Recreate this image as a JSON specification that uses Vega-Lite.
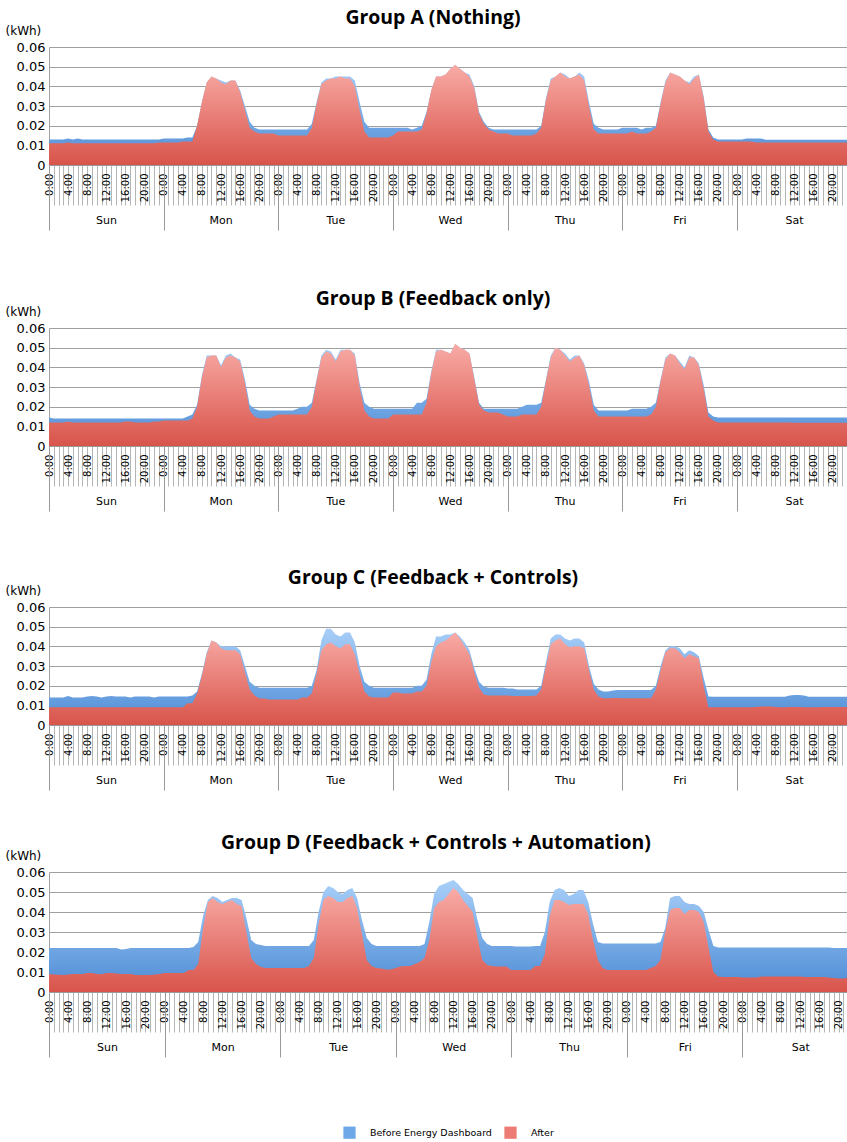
{
"$schema":"https://vega.github.io/schema/vega-lite/v6.json",
"padding":{"left":5,"top":7,"right":0,"bottom":0},
"background":"white",
"config":{"view":{"stroke":null},"title":{"font":"Open Sans","fontSize":19.4,"fontWeight":"bold","color":"#000","anchor":"middle","dx":-15,"offset":-4}},
"datasets":{
"A":[
{"h":0,"b":0.013,"a":0.011},{"h":1,"b":0.013,"a":0.011},{"h":2,"b":0.013,"a":0.011},{"h":3,"b":0.013,"a":0.011},{"h":4,"b":0.0135,"a":0.0115},{"h":5,"b":0.013,"a":0.011},{"h":6,"b":0.0135,"a":0.011},{"h":7,"b":0.013,"a":0.011},{"h":8,"b":0.013,"a":0.011},{"h":9,"b":0.013,"a":0.011},{"h":10,"b":0.013,"a":0.011},{"h":11,"b":0.013,"a":0.011},{"h":12,"b":0.013,"a":0.011},{"h":13,"b":0.013,"a":0.011},{"h":14,"b":0.013,"a":0.011},{"h":15,"b":0.013,"a":0.011},{"h":16,"b":0.013,"a":0.011},{"h":17,"b":0.013,"a":0.011},{"h":18,"b":0.013,"a":0.011},{"h":19,"b":0.013,"a":0.011},{"h":20,"b":0.013,"a":0.011},{"h":21,"b":0.013,"a":0.011},{"h":22,"b":0.013,"a":0.011},{"h":23,"b":0.013,"a":0.0115},
{"h":24,"b":0.0135,"a":0.0115},{"h":25,"b":0.0135,"a":0.0115},{"h":26,"b":0.0135,"a":0.0115},{"h":27,"b":0.0135,"a":0.0115},{"h":28,"b":0.0135,"a":0.012},{"h":29,"b":0.014,"a":0.012},{"h":30,"b":0.014,"a":0.012},{"h":31,"b":0.02,"a":0.02},{"h":32,"b":0.032,"a":0.032},{"h":33,"b":0.042,"a":0.042},{"h":34,"b":0.045,"a":0.045},{"h":35,"b":0.044,"a":0.044},{"h":36,"b":0.043,"a":0.042},{"h":37,"b":0.042,"a":0.041},{"h":38,"b":0.043,"a":0.043},{"h":39,"b":0.043,"a":0.043},{"h":40,"b":0.038,"a":0.037},{"h":41,"b":0.03,"a":0.028},{"h":42,"b":0.022,"a":0.019},{"h":43,"b":0.019,"a":0.017},{"h":44,"b":0.018,"a":0.016},{"h":45,"b":0.018,"a":0.016},{"h":46,"b":0.018,"a":0.016},{"h":47,"b":0.018,"a":0.016},
{"h":48,"b":0.018,"a":0.015},{"h":49,"b":0.018,"a":0.015},{"h":50,"b":0.018,"a":0.015},{"h":51,"b":0.018,"a":0.015},{"h":52,"b":0.018,"a":0.015},{"h":53,"b":0.018,"a":0.015},{"h":54,"b":0.018,"a":0.015},{"h":55,"b":0.021,"a":0.019},{"h":56,"b":0.032,"a":0.031},{"h":57,"b":0.042,"a":0.041},{"h":58,"b":0.044,"a":0.043},{"h":59,"b":0.044,"a":0.044},{"h":60,"b":0.045,"a":0.044},{"h":61,"b":0.045,"a":0.045},{"h":62,"b":0.045,"a":0.044},{"h":63,"b":0.045,"a":0.044},{"h":64,"b":0.043,"a":0.04},{"h":65,"b":0.032,"a":0.028},{"h":66,"b":0.022,"a":0.017},{"h":67,"b":0.019,"a":0.014},{"h":68,"b":0.019,"a":0.014},{"h":69,"b":0.019,"a":0.014},{"h":70,"b":0.019,"a":0.014},{"h":71,"b":0.019,"a":0.014},
{"h":72,"b":0.019,"a":0.015},{"h":73,"b":0.019,"a":0.017},{"h":74,"b":0.019,"a":0.017},{"h":75,"b":0.019,"a":0.017},{"h":76,"b":0.018,"a":0.017},{"h":77,"b":0.019,"a":0.017},{"h":78,"b":0.02,"a":0.018},{"h":79,"b":0.027,"a":0.026},{"h":80,"b":0.038,"a":0.038},{"h":81,"b":0.045,"a":0.045},{"h":82,"b":0.045,"a":0.045},{"h":83,"b":0.046,"a":0.046},{"h":84,"b":0.049,"a":0.049},{"h":85,"b":0.051,"a":0.051},{"h":86,"b":0.049,"a":0.049},{"h":87,"b":0.047,"a":0.047},{"h":88,"b":0.046,"a":0.045},{"h":89,"b":0.04,"a":0.039},{"h":90,"b":0.027,"a":0.026},{"h":91,"b":0.022,"a":0.021},{"h":92,"b":0.019,"a":0.018},{"h":93,"b":0.018,"a":0.017},{"h":94,"b":0.018,"a":0.016},{"h":95,"b":0.018,"a":0.016},
{"h":96,"b":0.018,"a":0.016},{"h":97,"b":0.018,"a":0.015},{"h":98,"b":0.018,"a":0.015},{"h":99,"b":0.018,"a":0.015},{"h":100,"b":0.018,"a":0.015},{"h":101,"b":0.018,"a":0.015},{"h":102,"b":0.018,"a":0.016},{"h":103,"b":0.02,"a":0.019},{"h":104,"b":0.034,"a":0.033},{"h":105,"b":0.044,"a":0.043},{"h":106,"b":0.045,"a":0.045},{"h":107,"b":0.047,"a":0.047},{"h":108,"b":0.046,"a":0.045},{"h":109,"b":0.044,"a":0.044},{"h":110,"b":0.045,"a":0.045},{"h":111,"b":0.047,"a":0.046},{"h":112,"b":0.045,"a":0.043},{"h":113,"b":0.032,"a":0.03},{"h":114,"b":0.021,"a":0.018},{"h":115,"b":0.019,"a":0.016},{"h":116,"b":0.018,"a":0.016},{"h":117,"b":0.018,"a":0.016},{"h":118,"b":0.018,"a":0.016},{"h":119,"b":0.018,"a":0.016},
{"h":120,"b":0.019,"a":0.016},{"h":121,"b":0.019,"a":0.016},{"h":122,"b":0.019,"a":0.017},{"h":123,"b":0.019,"a":0.016},{"h":124,"b":0.018,"a":0.016},{"h":125,"b":0.019,"a":0.016},{"h":126,"b":0.019,"a":0.017},{"h":127,"b":0.02,"a":0.019},{"h":128,"b":0.032,"a":0.031},{"h":129,"b":0.043,"a":0.042},{"h":130,"b":0.047,"a":0.047},{"h":131,"b":0.046,"a":0.046},{"h":132,"b":0.045,"a":0.045},{"h":133,"b":0.043,"a":0.043},{"h":134,"b":0.042,"a":0.041},{"h":135,"b":0.045,"a":0.044},{"h":136,"b":0.046,"a":0.046},{"h":137,"b":0.035,"a":0.034},{"h":138,"b":0.018,"a":0.017},{"h":139,"b":0.014,"a":0.013},{"h":140,"b":0.013,"a":0.012},{"h":141,"b":0.013,"a":0.012},{"h":142,"b":0.013,"a":0.012},{"h":143,"b":0.013,"a":0.012},
{"h":144,"b":0.013,"a":0.012},{"h":145,"b":0.013,"a":0.012},{"h":146,"b":0.0135,"a":0.012},{"h":147,"b":0.0135,"a":0.012},{"h":148,"b":0.0135,"a":0.0115},{"h":149,"b":0.0135,"a":0.0115},{"h":150,"b":0.0128,"a":0.0115},{"h":151,"b":0.0128,"a":0.0115},{"h":152,"b":0.0128,"a":0.0115},{"h":153,"b":0.0128,"a":0.0115},{"h":154,"b":0.0128,"a":0.0115},{"h":155,"b":0.0128,"a":0.0115},{"h":156,"b":0.0128,"a":0.0115},{"h":157,"b":0.0128,"a":0.0115},{"h":158,"b":0.0128,"a":0.0115},{"h":159,"b":0.0128,"a":0.0115},{"h":160,"b":0.0128,"a":0.0115},{"h":161,"b":0.0128,"a":0.0115},{"h":162,"b":0.0128,"a":0.0115},{"h":163,"b":0.0128,"a":0.0115},{"h":164,"b":0.0128,"a":0.0115},{"h":165,"b":0.0128,"a":0.0115},{"h":166,"b":0.0128,"a":0.0115},{"h":167,"b":0.0128,"a":0.0115}
],
"B":[
{"h":0,"b":0.0145,"a":0.012},{"h":1,"b":0.014,"a":0.012},{"h":2,"b":0.014,"a":0.012},{"h":3,"b":0.014,"a":0.012},{"h":4,"b":0.014,"a":0.0125},{"h":5,"b":0.014,"a":0.012},{"h":6,"b":0.014,"a":0.012},{"h":7,"b":0.014,"a":0.012},{"h":8,"b":0.014,"a":0.012},{"h":9,"b":0.014,"a":0.012},{"h":10,"b":0.014,"a":0.012},{"h":11,"b":0.014,"a":0.012},{"h":12,"b":0.014,"a":0.012},{"h":13,"b":0.014,"a":0.012},{"h":14,"b":0.014,"a":0.012},{"h":15,"b":0.014,"a":0.012},{"h":16,"b":0.014,"a":0.0125},{"h":17,"b":0.014,"a":0.0125},{"h":18,"b":0.014,"a":0.012},{"h":19,"b":0.014,"a":0.012},{"h":20,"b":0.014,"a":0.012},{"h":21,"b":0.014,"a":0.012},{"h":22,"b":0.014,"a":0.0125},{"h":23,"b":0.014,"a":0.0125},
{"h":24,"b":0.014,"a":0.013},{"h":25,"b":0.014,"a":0.013},{"h":26,"b":0.014,"a":0.013},{"h":27,"b":0.014,"a":0.013},{"h":28,"b":0.014,"a":0.013},{"h":29,"b":0.015,"a":0.013},{"h":30,"b":0.016,"a":0.014},{"h":31,"b":0.021,"a":0.02},{"h":32,"b":0.036,"a":0.035},{"h":33,"b":0.046,"a":0.045},{"h":34,"b":0.046,"a":0.046},{"h":35,"b":0.046,"a":0.046},{"h":36,"b":0.041,"a":0.04},{"h":37,"b":0.046,"a":0.045},{"h":38,"b":0.047,"a":0.046},{"h":39,"b":0.045,"a":0.045},{"h":40,"b":0.044,"a":0.043},{"h":41,"b":0.034,"a":0.032},{"h":42,"b":0.021,"a":0.018},{"h":43,"b":0.019,"a":0.015},{"h":44,"b":0.018,"a":0.014},{"h":45,"b":0.018,"a":0.014},{"h":46,"b":0.018,"a":0.014},{"h":47,"b":0.018,"a":0.015},
{"h":48,"b":0.018,"a":0.016},{"h":49,"b":0.018,"a":0.016},{"h":50,"b":0.018,"a":0.016},{"h":51,"b":0.018,"a":0.016},{"h":52,"b":0.019,"a":0.016},{"h":53,"b":0.02,"a":0.016},{"h":54,"b":0.02,"a":0.016},{"h":55,"b":0.022,"a":0.02},{"h":56,"b":0.034,"a":0.033},{"h":57,"b":0.046,"a":0.045},{"h":58,"b":0.049,"a":0.048},{"h":59,"b":0.048,"a":0.047},{"h":60,"b":0.044,"a":0.043},{"h":61,"b":0.049,"a":0.048},{"h":62,"b":0.049,"a":0.049},{"h":63,"b":0.049,"a":0.049},{"h":64,"b":0.047,"a":0.046},{"h":65,"b":0.032,"a":0.03},{"h":66,"b":0.022,"a":0.018},{"h":67,"b":0.02,"a":0.015},{"h":68,"b":0.019,"a":0.014},{"h":69,"b":0.019,"a":0.014},{"h":70,"b":0.019,"a":0.014},{"h":71,"b":0.019,"a":0.014},
{"h":72,"b":0.019,"a":0.016},{"h":73,"b":0.019,"a":0.016},{"h":74,"b":0.019,"a":0.016},{"h":75,"b":0.019,"a":0.016},{"h":76,"b":0.019,"a":0.016},{"h":77,"b":0.022,"a":0.016},{"h":78,"b":0.022,"a":0.016},{"h":79,"b":0.024,"a":0.022},{"h":80,"b":0.038,"a":0.037},{"h":81,"b":0.049,"a":0.048},{"h":82,"b":0.049,"a":0.049},{"h":83,"b":0.048,"a":0.048},{"h":84,"b":0.047,"a":0.047},{"h":85,"b":0.052,"a":0.052},{"h":86,"b":0.05,"a":0.05},{"h":87,"b":0.049,"a":0.049},{"h":88,"b":0.047,"a":0.047},{"h":89,"b":0.035,"a":0.034},{"h":90,"b":0.022,"a":0.021},{"h":91,"b":0.019,"a":0.018},{"h":92,"b":0.019,"a":0.017},{"h":93,"b":0.019,"a":0.017},{"h":94,"b":0.019,"a":0.017},{"h":95,"b":0.019,"a":0.016},
{"h":96,"b":0.019,"a":0.015},{"h":97,"b":0.019,"a":0.015},{"h":98,"b":0.019,"a":0.015},{"h":99,"b":0.02,"a":0.016},{"h":100,"b":0.021,"a":0.016},{"h":101,"b":0.021,"a":0.016},{"h":102,"b":0.021,"a":0.016},{"h":103,"b":0.022,"a":0.02},{"h":104,"b":0.034,"a":0.033},{"h":105,"b":0.046,"a":0.045},{"h":106,"b":0.05,"a":0.05},{"h":107,"b":0.049,"a":0.049},{"h":108,"b":0.047,"a":0.046},{"h":109,"b":0.044,"a":0.043},{"h":110,"b":0.046,"a":0.045},{"h":111,"b":0.046,"a":0.046},{"h":112,"b":0.042,"a":0.041},{"h":113,"b":0.033,"a":0.031},{"h":114,"b":0.021,"a":0.018},{"h":115,"b":0.018,"a":0.015},{"h":116,"b":0.018,"a":0.015},{"h":117,"b":0.018,"a":0.015},{"h":118,"b":0.018,"a":0.015},{"h":119,"b":0.018,"a":0.015},
{"h":120,"b":0.018,"a":0.015},{"h":121,"b":0.018,"a":0.015},{"h":122,"b":0.019,"a":0.015},{"h":123,"b":0.019,"a":0.015},{"h":124,"b":0.019,"a":0.015},{"h":125,"b":0.019,"a":0.015},{"h":126,"b":0.02,"a":0.016},{"h":127,"b":0.022,"a":0.02},{"h":128,"b":0.034,"a":0.033},{"h":129,"b":0.045,"a":0.044},{"h":130,"b":0.047,"a":0.047},{"h":131,"b":0.046,"a":0.046},{"h":132,"b":0.043,"a":0.042},{"h":133,"b":0.04,"a":0.039},{"h":134,"b":0.046,"a":0.045},{"h":135,"b":0.045,"a":0.045},{"h":136,"b":0.042,"a":0.041},{"h":137,"b":0.031,"a":0.029},{"h":138,"b":0.017,"a":0.015},{"h":139,"b":0.015,"a":0.013},{"h":140,"b":0.0145,"a":0.012},{"h":141,"b":0.0145,"a":0.012},{"h":142,"b":0.0145,"a":0.012},{"h":143,"b":0.0145,"a":0.012},
{"h":144,"b":0.0145,"a":0.012},{"h":145,"b":0.0145,"a":0.012},{"h":146,"b":0.0145,"a":0.012},{"h":147,"b":0.0145,"a":0.012},{"h":148,"b":0.0145,"a":0.012},{"h":149,"b":0.0145,"a":0.012},{"h":150,"b":0.0145,"a":0.012},{"h":151,"b":0.0145,"a":0.012},{"h":152,"b":0.0145,"a":0.012},{"h":153,"b":0.0145,"a":0.012},{"h":154,"b":0.0145,"a":0.012},{"h":155,"b":0.0145,"a":0.012},{"h":156,"b":0.0145,"a":0.0118},{"h":157,"b":0.0145,"a":0.0118},{"h":158,"b":0.0145,"a":0.0118},{"h":159,"b":0.0145,"a":0.0118},{"h":160,"b":0.0145,"a":0.0118},{"h":161,"b":0.0145,"a":0.0118},{"h":162,"b":0.0145,"a":0.0118},{"h":163,"b":0.0145,"a":0.0118},{"h":164,"b":0.0145,"a":0.0118},{"h":165,"b":0.0145,"a":0.0118},{"h":166,"b":0.0145,"a":0.0118},{"h":167,"b":0.0145,"a":0.0118}
],
"C":[
{"h":0,"b":0.014,"a":0.009},{"h":1,"b":0.014,"a":0.009},{"h":2,"b":0.014,"a":0.009},{"h":3,"b":0.014,"a":0.009},{"h":4,"b":0.0148,"a":0.009},{"h":5,"b":0.014,"a":0.009},{"h":6,"b":0.014,"a":0.009},{"h":7,"b":0.014,"a":0.009},{"h":8,"b":0.0145,"a":0.009},{"h":9,"b":0.0148,"a":0.009},{"h":10,"b":0.0145,"a":0.009},{"h":11,"b":0.014,"a":0.009},{"h":12,"b":0.0145,"a":0.009},{"h":13,"b":0.0148,"a":0.009},{"h":14,"b":0.0145,"a":0.009},{"h":15,"b":0.0145,"a":0.009},{"h":16,"b":0.0145,"a":0.009},{"h":17,"b":0.014,"a":0.009},{"h":18,"b":0.0145,"a":0.009},{"h":19,"b":0.0145,"a":0.009},{"h":20,"b":0.0145,"a":0.009},{"h":21,"b":0.0145,"a":0.009},{"h":22,"b":0.014,"a":0.009},{"h":23,"b":0.0145,"a":0.009},
{"h":24,"b":0.0145,"a":0.009},{"h":25,"b":0.0145,"a":0.009},{"h":26,"b":0.0145,"a":0.009},{"h":27,"b":0.0145,"a":0.009},{"h":28,"b":0.0145,"a":0.009},{"h":29,"b":0.0145,"a":0.011},{"h":30,"b":0.015,"a":0.011},{"h":31,"b":0.017,"a":0.016},{"h":32,"b":0.026,"a":0.025},{"h":33,"b":0.037,"a":0.036},{"h":34,"b":0.043,"a":0.043},{"h":35,"b":0.042,"a":0.042},{"h":36,"b":0.04,"a":0.039},{"h":37,"b":0.04,"a":0.038},{"h":38,"b":0.04,"a":0.038},{"h":39,"b":0.04,"a":0.038},{"h":40,"b":0.038,"a":0.036},{"h":41,"b":0.03,"a":0.027},{"h":42,"b":0.022,"a":0.018},{"h":43,"b":0.02,"a":0.015},{"h":44,"b":0.019,"a":0.0135},{"h":45,"b":0.019,"a":0.0135},{"h":46,"b":0.019,"a":0.013},{"h":47,"b":0.019,"a":0.013},
{"h":48,"b":0.019,"a":0.013},{"h":49,"b":0.019,"a":0.013},{"h":50,"b":0.019,"a":0.013},{"h":51,"b":0.019,"a":0.013},{"h":52,"b":0.019,"a":0.013},{"h":53,"b":0.019,"a":0.014},{"h":54,"b":0.019,"a":0.014},{"h":55,"b":0.02,"a":0.016},{"h":56,"b":0.028,"a":0.026},{"h":57,"b":0.043,"a":0.038},{"h":58,"b":0.049,"a":0.041},{"h":59,"b":0.049,"a":0.042},{"h":60,"b":0.046,"a":0.04},{"h":61,"b":0.045,"a":0.039},{"h":62,"b":0.047,"a":0.041},{"h":63,"b":0.047,"a":0.041},{"h":64,"b":0.042,"a":0.036},{"h":65,"b":0.03,"a":0.026},{"h":66,"b":0.022,"a":0.017},{"h":67,"b":0.02,"a":0.0145},{"h":68,"b":0.019,"a":0.014},{"h":69,"b":0.019,"a":0.014},{"h":70,"b":0.019,"a":0.014},{"h":71,"b":0.019,"a":0.014},
{"h":72,"b":0.019,"a":0.0165},{"h":73,"b":0.019,"a":0.0165},{"h":74,"b":0.019,"a":0.016},{"h":75,"b":0.019,"a":0.016},{"h":76,"b":0.019,"a":0.016},{"h":77,"b":0.02,"a":0.017},{"h":78,"b":0.02,"a":0.017},{"h":79,"b":0.023,"a":0.02},{"h":80,"b":0.036,"a":0.032},{"h":81,"b":0.045,"a":0.04},{"h":82,"b":0.045,"a":0.042},{"h":83,"b":0.046,"a":0.043},{"h":84,"b":0.046,"a":0.045},{"h":85,"b":0.047,"a":0.047},{"h":86,"b":0.045,"a":0.044},{"h":87,"b":0.042,"a":0.04},{"h":88,"b":0.038,"a":0.036},{"h":89,"b":0.029,"a":0.027},{"h":90,"b":0.022,"a":0.019},{"h":91,"b":0.0195,"a":0.0155},{"h":92,"b":0.019,"a":0.015},{"h":93,"b":0.019,"a":0.015},{"h":94,"b":0.019,"a":0.015},{"h":95,"b":0.019,"a":0.015},
{"h":96,"b":0.0185,"a":0.015},{"h":97,"b":0.0185,"a":0.0147},{"h":98,"b":0.018,"a":0.0147},{"h":99,"b":0.018,"a":0.0147},{"h":100,"b":0.018,"a":0.0147},{"h":101,"b":0.018,"a":0.0147},{"h":102,"b":0.018,"a":0.015},{"h":103,"b":0.02,"a":0.018},{"h":104,"b":0.032,"a":0.03},{"h":105,"b":0.044,"a":0.041},{"h":106,"b":0.046,"a":0.043},{"h":107,"b":0.046,"a":0.044},{"h":108,"b":0.044,"a":0.041},{"h":109,"b":0.043,"a":0.0395},{"h":110,"b":0.044,"a":0.04},{"h":111,"b":0.044,"a":0.04},{"h":112,"b":0.042,"a":0.039},{"h":113,"b":0.03,"a":0.028},{"h":114,"b":0.021,"a":0.018},{"h":115,"b":0.018,"a":0.0145},{"h":116,"b":0.017,"a":0.0136},{"h":117,"b":0.017,"a":0.0136},{"h":118,"b":0.0175,"a":0.0137},{"h":119,"b":0.0178,"a":0.0137},
{"h":120,"b":0.0178,"a":0.0136},{"h":121,"b":0.0178,"a":0.0136},{"h":122,"b":0.0178,"a":0.0136},{"h":123,"b":0.0178,"a":0.0136},{"h":124,"b":0.0178,"a":0.0136},{"h":125,"b":0.0178,"a":0.0136},{"h":126,"b":0.0178,"a":0.0136},{"h":127,"b":0.02,"a":0.018},{"h":128,"b":0.03,"a":0.028},{"h":129,"b":0.038,"a":0.037},{"h":130,"b":0.04,"a":0.039},{"h":131,"b":0.04,"a":0.039},{"h":132,"b":0.039,"a":0.037},{"h":133,"b":0.036,"a":0.034},{"h":134,"b":0.038,"a":0.036},{"h":135,"b":0.037,"a":0.035},{"h":136,"b":0.035,"a":0.034},{"h":137,"b":0.024,"a":0.02},{"h":138,"b":0.0145,"a":0.009},{"h":139,"b":0.0144,"a":0.009},{"h":140,"b":0.0144,"a":0.009},{"h":141,"b":0.0144,"a":0.009},{"h":142,"b":0.0144,"a":0.009},{"h":143,"b":0.0144,"a":0.009},
{"h":144,"b":0.0144,"a":0.009},{"h":145,"b":0.0144,"a":0.009},{"h":146,"b":0.0144,"a":0.009},{"h":147,"b":0.0144,"a":0.009},{"h":148,"b":0.0144,"a":0.0092},{"h":149,"b":0.0144,"a":0.0094},{"h":150,"b":0.0144,"a":0.0094},{"h":151,"b":0.0144,"a":0.0094},{"h":152,"b":0.0144,"a":0.0092},{"h":153,"b":0.0144,"a":0.009},{"h":154,"b":0.0144,"a":0.009},{"h":155,"b":0.015,"a":0.0092},{"h":156,"b":0.0152,"a":0.0092},{"h":157,"b":0.0152,"a":0.0092},{"h":158,"b":0.015,"a":0.009},{"h":159,"b":0.0144,"a":0.009},{"h":160,"b":0.0144,"a":0.009},{"h":161,"b":0.0144,"a":0.009},{"h":162,"b":0.0144,"a":0.0092},{"h":163,"b":0.0144,"a":0.0092},{"h":164,"b":0.0144,"a":0.0092},{"h":165,"b":0.0144,"a":0.0092},{"h":166,"b":0.0144,"a":0.0092},{"h":167,"b":0.0144,"a":0.0092}
],
"D":[
{"h":0,"b":0.022,"a":0.009},{"h":1,"b":0.022,"a":0.0088},{"h":2,"b":0.022,"a":0.0086},{"h":3,"b":0.022,"a":0.0085},{"h":4,"b":0.022,"a":0.0088},{"h":5,"b":0.022,"a":0.009},{"h":6,"b":0.022,"a":0.009},{"h":7,"b":0.022,"a":0.009},{"h":8,"b":0.022,"a":0.0095},{"h":9,"b":0.022,"a":0.0095},{"h":10,"b":0.022,"a":0.009},{"h":11,"b":0.022,"a":0.009},{"h":12,"b":0.022,"a":0.0095},{"h":13,"b":0.022,"a":0.0095},{"h":14,"b":0.022,"a":0.0092},{"h":15,"b":0.0213,"a":0.009},{"h":16,"b":0.0215,"a":0.009},{"h":17,"b":0.022,"a":0.009},{"h":18,"b":0.022,"a":0.0085},{"h":19,"b":0.022,"a":0.0085},{"h":20,"b":0.022,"a":0.0085},{"h":21,"b":0.022,"a":0.0085},{"h":22,"b":0.022,"a":0.0088},{"h":23,"b":0.022,"a":0.009},
{"h":24,"b":0.022,"a":0.0095},{"h":25,"b":0.022,"a":0.0095},{"h":26,"b":0.022,"a":0.0095},{"h":27,"b":0.022,"a":0.0095},{"h":28,"b":0.022,"a":0.0095},{"h":29,"b":0.022,"a":0.011},{"h":30,"b":0.0225,"a":0.011},{"h":31,"b":0.025,"a":0.014},{"h":32,"b":0.038,"a":0.032},{"h":33,"b":0.046,"a":0.045},{"h":34,"b":0.048,"a":0.047},{"h":35,"b":0.047,"a":0.045},{"h":36,"b":0.045,"a":0.044},{"h":37,"b":0.046,"a":0.045},{"h":38,"b":0.047,"a":0.046},{"h":39,"b":0.047,"a":0.044},{"h":40,"b":0.046,"a":0.043},{"h":41,"b":0.037,"a":0.03},{"h":42,"b":0.026,"a":0.017},{"h":43,"b":0.024,"a":0.014},{"h":44,"b":0.0235,"a":0.0125},{"h":45,"b":0.023,"a":0.012},{"h":46,"b":0.023,"a":0.012},{"h":47,"b":0.023,"a":0.012},
{"h":48,"b":0.023,"a":0.012},{"h":49,"b":0.023,"a":0.012},{"h":50,"b":0.023,"a":0.012},{"h":51,"b":0.023,"a":0.012},{"h":52,"b":0.023,"a":0.012},{"h":53,"b":0.023,"a":0.012},{"h":54,"b":0.023,"a":0.013},{"h":55,"b":0.026,"a":0.017},{"h":56,"b":0.04,"a":0.034},{"h":57,"b":0.05,"a":0.046},{"h":58,"b":0.053,"a":0.048},{"h":59,"b":0.052,"a":0.047},{"h":60,"b":0.05,"a":0.045},{"h":61,"b":0.049,"a":0.045},{"h":62,"b":0.051,"a":0.047},{"h":63,"b":0.052,"a":0.048},{"h":64,"b":0.047,"a":0.042},{"h":65,"b":0.036,"a":0.029},{"h":66,"b":0.027,"a":0.016},{"h":67,"b":0.024,"a":0.013},{"h":68,"b":0.023,"a":0.012},{"h":69,"b":0.023,"a":0.0118},{"h":70,"b":0.023,"a":0.0113},{"h":71,"b":0.023,"a":0.0113},
{"h":72,"b":0.023,"a":0.012},{"h":73,"b":0.023,"a":0.0127},{"h":74,"b":0.023,"a":0.013},{"h":75,"b":0.023,"a":0.013},{"h":76,"b":0.023,"a":0.014},{"h":77,"b":0.023,"a":0.015},{"h":78,"b":0.024,"a":0.017},{"h":79,"b":0.035,"a":0.026},{"h":80,"b":0.049,"a":0.042},{"h":81,"b":0.053,"a":0.045},{"h":82,"b":0.054,"a":0.046},{"h":83,"b":0.055,"a":0.049},{"h":84,"b":0.056,"a":0.052},{"h":85,"b":0.054,"a":0.05},{"h":86,"b":0.051,"a":0.046},{"h":87,"b":0.049,"a":0.043},{"h":88,"b":0.047,"a":0.04},{"h":89,"b":0.036,"a":0.027},{"h":90,"b":0.027,"a":0.016},{"h":91,"b":0.024,"a":0.0135},{"h":92,"b":0.023,"a":0.013},{"h":93,"b":0.023,"a":0.0127},{"h":94,"b":0.023,"a":0.0127},{"h":95,"b":0.023,"a":0.0127},
{"h":96,"b":0.023,"a":0.011},{"h":97,"b":0.0227,"a":0.011},{"h":98,"b":0.0227,"a":0.011},{"h":99,"b":0.0227,"a":0.011},{"h":100,"b":0.0227,"a":0.011},{"h":101,"b":0.023,"a":0.013},{"h":102,"b":0.023,"a":0.013},{"h":103,"b":0.03,"a":0.019},{"h":104,"b":0.045,"a":0.038},{"h":105,"b":0.051,"a":0.046},{"h":106,"b":0.052,"a":0.046},{"h":107,"b":0.051,"a":0.045},{"h":108,"b":0.048,"a":0.0435},{"h":109,"b":0.049,"a":0.044},{"h":110,"b":0.051,"a":0.044},{"h":111,"b":0.051,"a":0.044},{"h":112,"b":0.045,"a":0.039},{"h":113,"b":0.034,"a":0.026},{"h":114,"b":0.025,"a":0.016},{"h":115,"b":0.0243,"a":0.012},{"h":116,"b":0.0243,"a":0.011},{"h":117,"b":0.0243,"a":0.011},{"h":118,"b":0.0243,"a":0.011},{"h":119,"b":0.0243,"a":0.011},
{"h":120,"b":0.0243,"a":0.011},{"h":121,"b":0.0243,"a":0.011},{"h":122,"b":0.0243,"a":0.011},{"h":123,"b":0.0243,"a":0.011},{"h":124,"b":0.0243,"a":0.011},{"h":125,"b":0.0243,"a":0.012},{"h":126,"b":0.0243,"a":0.013},{"h":127,"b":0.025,"a":0.016},{"h":128,"b":0.032,"a":0.03},{"h":129,"b":0.047,"a":0.041},{"h":130,"b":0.048,"a":0.042},{"h":131,"b":0.048,"a":0.042},{"h":132,"b":0.045,"a":0.039},{"h":133,"b":0.044,"a":0.041},{"h":134,"b":0.044,"a":0.041},{"h":135,"b":0.043,"a":0.04},{"h":136,"b":0.04,"a":0.035},{"h":137,"b":0.031,"a":0.022},{"h":138,"b":0.023,"a":0.01},{"h":139,"b":0.0223,"a":0.0077},{"h":140,"b":0.0223,"a":0.0075},{"h":141,"b":0.0223,"a":0.0075},{"h":142,"b":0.0223,"a":0.0075},{"h":143,"b":0.0223,"a":0.0075},
{"h":144,"b":0.0223,"a":0.0073},{"h":145,"b":0.0223,"a":0.0073},{"h":146,"b":0.0223,"a":0.0073},{"h":147,"b":0.0223,"a":0.0073},{"h":148,"b":0.0223,"a":0.0077},{"h":149,"b":0.0223,"a":0.0077},{"h":150,"b":0.0223,"a":0.0077},{"h":151,"b":0.0223,"a":0.0077},{"h":152,"b":0.0223,"a":0.0077},{"h":153,"b":0.0223,"a":0.0077},{"h":154,"b":0.0223,"a":0.0077},{"h":155,"b":0.0223,"a":0.0077},{"h":156,"b":0.0223,"a":0.0077},{"h":157,"b":0.0223,"a":0.0075},{"h":158,"b":0.0223,"a":0.0075},{"h":159,"b":0.0223,"a":0.0075},{"h":160,"b":0.0223,"a":0.0075},{"h":161,"b":0.0223,"a":0.0075},{"h":162,"b":0.0223,"a":0.0072},{"h":163,"b":0.022,"a":0.007},{"h":164,"b":0.022,"a":0.0068},{"h":165,"b":0.022,"a":0.0068},{"h":166,"b":0.022,"a":0.0072},{"h":167,"b":0.022,"a":0.0068}
],
"L":[{"s":"Before Energy Dashboard"},{"s":"After"}]
},
"spacing":55,
"vconcat":[
{"spacing":57,"vconcat":[
{"title":{"text":"Group A (Nothing)"},"width":798,"height":118,"data":{"name":"A"},
"resolve":{"axis":{"x":"independent"}},
"layer":[
{"mark":{"type":"area","color":{"gradient":"linear","x1":0,"y1":0,"x2":0,"y2":1,"stops":[{"offset":0,"color":"#A9CFF8"},{"offset":1,"color":"#4C8BD5"}]}},
"encoding":{"x":{"field":"h","type":"quantitative","scale":{"domain":[0,167],"nice":false,"zero":false},"axis":{"orient":"bottom","title":null,"tickCount":168,"labelExpr":"datum.value % 4 == 0 ? (datum.value % 24) + ':00' : ''","labelAngle":-90,"labelFont":"DejaVu Sans","labelFontSize":10,"labelColor":"#000","labelPadding":-32,"tickSize":40,"tickColor":"#b5b5b5","domainColor":"#999","grid":false,"labelOverlap":false,"labelFlush":false,"labelBound":false}},
"y":{"field":"b","type":"quantitative","scale":{"domain":[0,0.06],"nice":false},"axis":{"title":"(kWh)","titleAngle":0,"titleX":-44,"titleY":-17,"titleAlign":"left","titleBaseline":"middle","titleFont":"DejaVu Sans","titleFontSize":12,"titleFontWeight":"normal","titleColor":"#000","values":[0,0.01,0.02,0.03,0.04,0.05,0.06],"labelExpr":"datum.value == 0 ? '0' : format(datum.value, '.2f')","labelFont":"DejaVu Sans","labelFontSize":13,"labelColor":"#000","labelPadding":4,"ticks":false,"grid":true,"gridColor":"#a0a0a0","domainColor":"#a0a0a0","labelOverlap":false,"labelFlush":false}}}},
{"mark":{"type":"area","color":{"gradient":"linear","x1":0,"y1":0,"x2":0,"y2":1,"stops":[{"offset":0,"color":"#F9ABA6"},{"offset":1,"color":"#D8544B"}]}},
"encoding":{"x":{"field":"h","type":"quantitative","axis":{"orient":"bottom","title":null,"values":[0,24,48,72,96,120,144],"labelExpr":"['Sun','Mon','Tue','Wed','Thu','Fri','Sat'][datum.value/24]","labelOffset":57,"labelPadding":-10,"labelAngle":0,"labelAlign":"center","labelBaseline":"middle","labelFont":"DejaVu Sans","labelFontSize":11,"labelColor":"#000","tickSize":65,"tickColor":"#999","domain":false,"grid":false,"labelOverlap":false,"labelFlush":false,"labelBound":false}},
"y":{"field":"a","type":"quantitative","axis":{"title":"(kWh)","titleAngle":0,"titleX":-44,"titleY":-17,"titleAlign":"left","titleBaseline":"middle","titleFont":"DejaVu Sans","titleFontSize":12,"titleFontWeight":"normal","titleColor":"#000","values":[0,0.01,0.02,0.03,0.04,0.05,0.06],"labelExpr":"datum.value == 0 ? '0' : format(datum.value, '.2f')","labelFont":"DejaVu Sans","labelFontSize":13,"labelColor":"#000","labelPadding":4,"ticks":false,"grid":true,"gridColor":"#a0a0a0","domainColor":"#a0a0a0","labelOverlap":false,"labelFlush":false}}}},
{"data":{"name":"L"},"mark":{"type":"square","opacity":0},
"encoding":{"color":{"field":"s","type":"nominal","scale":{"domain":["Before Energy Dashboard","After"],"range":["#6FA8E8","#EE7C76"]},"legend":{"orient":"none","legendX":294,"legendY":1079,"direction":"horizontal","title":null,"symbolType":"square","symbolSize":150,"symbolOpacity":1,"symbolStrokeWidth":0,"labelFont":"DejaVu Sans","labelFontSize":9.5,"labelColor":"#000","labelOffset":14,"columnPadding":12}}}}
]},
{"title":{"text":"Group B (Feedback only)"},"width":798,"height":118,"data":{"name":"B"},
"resolve":{"axis":{"x":"independent"}},
"layer":[
{"mark":{"type":"area","color":{"gradient":"linear","x1":0,"y1":0,"x2":0,"y2":1,"stops":[{"offset":0,"color":"#A9CFF8"},{"offset":1,"color":"#4C8BD5"}]}},
"encoding":{"x":{"field":"h","type":"quantitative","scale":{"domain":[0,167],"nice":false,"zero":false},"axis":{"orient":"bottom","title":null,"tickCount":168,"labelExpr":"datum.value % 4 == 0 ? (datum.value % 24) + ':00' : ''","labelAngle":-90,"labelFont":"DejaVu Sans","labelFontSize":10,"labelColor":"#000","labelPadding":-32,"tickSize":40,"tickColor":"#b5b5b5","domainColor":"#999","grid":false,"labelOverlap":false,"labelFlush":false,"labelBound":false}},
"y":{"field":"b","type":"quantitative","scale":{"domain":[0,0.06],"nice":false},"axis":{"title":"(kWh)","titleAngle":0,"titleX":-44,"titleY":-17,"titleAlign":"left","titleBaseline":"middle","titleFont":"DejaVu Sans","titleFontSize":12,"titleFontWeight":"normal","titleColor":"#000","values":[0,0.01,0.02,0.03,0.04,0.05,0.06],"labelExpr":"datum.value == 0 ? '0' : format(datum.value, '.2f')","labelFont":"DejaVu Sans","labelFontSize":13,"labelColor":"#000","labelPadding":4,"ticks":false,"grid":true,"gridColor":"#a0a0a0","domainColor":"#a0a0a0","labelOverlap":false,"labelFlush":false}}}},
{"mark":{"type":"area","color":{"gradient":"linear","x1":0,"y1":0,"x2":0,"y2":1,"stops":[{"offset":0,"color":"#F9ABA6"},{"offset":1,"color":"#D8544B"}]}},
"encoding":{"x":{"field":"h","type":"quantitative","axis":{"orient":"bottom","title":null,"values":[0,24,48,72,96,120,144],"labelExpr":"['Sun','Mon','Tue','Wed','Thu','Fri','Sat'][datum.value/24]","labelOffset":57,"labelPadding":-10,"labelAngle":0,"labelAlign":"center","labelBaseline":"middle","labelFont":"DejaVu Sans","labelFontSize":11,"labelColor":"#000","tickSize":65,"tickColor":"#999","domain":false,"grid":false,"labelOverlap":false,"labelFlush":false,"labelBound":false}},
"y":{"field":"a","type":"quantitative","axis":{"title":"(kWh)","titleAngle":0,"titleX":-44,"titleY":-17,"titleAlign":"left","titleBaseline":"middle","titleFont":"DejaVu Sans","titleFontSize":12,"titleFontWeight":"normal","titleColor":"#000","values":[0,0.01,0.02,0.03,0.04,0.05,0.06],"labelExpr":"datum.value == 0 ? '0' : format(datum.value, '.2f')","labelFont":"DejaVu Sans","labelFontSize":13,"labelColor":"#000","labelPadding":4,"ticks":false,"grid":true,"gridColor":"#a0a0a0","domainColor":"#a0a0a0","labelOverlap":false,"labelFlush":false}}}}
]}
]},
{"spacing":41,"vconcat":[
{"title":{"text":"Group C (Feedback + Controls)"},"width":798,"height":118,"data":{"name":"C"},
"resolve":{"axis":{"x":"independent"}},
"layer":[
{"mark":{"type":"area","color":{"gradient":"linear","x1":0,"y1":0,"x2":0,"y2":1,"stops":[{"offset":0,"color":"#A9CFF8"},{"offset":1,"color":"#4C8BD5"}]}},
"encoding":{"x":{"field":"h","type":"quantitative","scale":{"domain":[0,167],"nice":false,"zero":false},"axis":{"orient":"bottom","title":null,"tickCount":168,"labelExpr":"datum.value % 4 == 0 ? (datum.value % 24) + ':00' : ''","labelAngle":-90,"labelFont":"DejaVu Sans","labelFontSize":10,"labelColor":"#000","labelPadding":-32,"tickSize":40,"tickColor":"#b5b5b5","domainColor":"#999","grid":false,"labelOverlap":false,"labelFlush":false,"labelBound":false}},
"y":{"field":"b","type":"quantitative","scale":{"domain":[0,0.06],"nice":false},"axis":{"title":"(kWh)","titleAngle":0,"titleX":-44,"titleY":-17,"titleAlign":"left","titleBaseline":"middle","titleFont":"DejaVu Sans","titleFontSize":12,"titleFontWeight":"normal","titleColor":"#000","values":[0,0.01,0.02,0.03,0.04,0.05,0.06],"labelExpr":"datum.value == 0 ? '0' : format(datum.value, '.2f')","labelFont":"DejaVu Sans","labelFontSize":13,"labelColor":"#000","labelPadding":4,"ticks":false,"grid":true,"gridColor":"#a0a0a0","domainColor":"#a0a0a0","labelOverlap":false,"labelFlush":false}}}},
{"mark":{"type":"area","color":{"gradient":"linear","x1":0,"y1":0,"x2":0,"y2":1,"stops":[{"offset":0,"color":"#F9ABA6"},{"offset":1,"color":"#D8544B"}]}},
"encoding":{"x":{"field":"h","type":"quantitative","axis":{"orient":"bottom","title":null,"values":[0,24,48,72,96,120,144],"labelExpr":"['Sun','Mon','Tue','Wed','Thu','Fri','Sat'][datum.value/24]","labelOffset":57,"labelPadding":-10,"labelAngle":0,"labelAlign":"center","labelBaseline":"middle","labelFont":"DejaVu Sans","labelFontSize":11,"labelColor":"#000","tickSize":65,"tickColor":"#999","domain":false,"grid":false,"labelOverlap":false,"labelFlush":false,"labelBound":false}},
"y":{"field":"a","type":"quantitative","axis":{"title":"(kWh)","titleAngle":0,"titleX":-44,"titleY":-17,"titleAlign":"left","titleBaseline":"middle","titleFont":"DejaVu Sans","titleFontSize":12,"titleFontWeight":"normal","titleColor":"#000","values":[0,0.01,0.02,0.03,0.04,0.05,0.06],"labelExpr":"datum.value == 0 ? '0' : format(datum.value, '.2f')","labelFont":"DejaVu Sans","labelFontSize":13,"labelColor":"#000","labelPadding":4,"ticks":false,"grid":true,"gridColor":"#a0a0a0","domainColor":"#a0a0a0","labelOverlap":false,"labelFlush":false}}}}
]},
{"title":{"text":"Group D (Feedback + Controls + Automation)"},"width":804,"height":120,"data":{"name":"D"},
"resolve":{"axis":{"x":"independent"}},
"layer":[
{"mark":{"type":"area","color":{"gradient":"linear","x1":0,"y1":0,"x2":0,"y2":1,"stops":[{"offset":0,"color":"#A9CFF8"},{"offset":1,"color":"#4C8BD5"}]}},
"encoding":{"x":{"field":"h","type":"quantitative","scale":{"domain":[0,167],"nice":false,"zero":false},"axis":{"orient":"bottom","title":null,"tickCount":168,"labelExpr":"datum.value % 4 == 0 ? (datum.value % 24) + ':00' : ''","labelAngle":-90,"labelFont":"DejaVu Sans","labelFontSize":10,"labelColor":"#000","labelPadding":-32,"tickSize":40,"tickColor":"#b5b5b5","domainColor":"#999","grid":false,"labelOverlap":false,"labelFlush":false,"labelBound":false}},
"y":{"field":"b","type":"quantitative","scale":{"domain":[0,0.06],"nice":false},"axis":{"title":"(kWh)","titleAngle":0,"titleX":-44,"titleY":-17,"titleAlign":"left","titleBaseline":"middle","titleFont":"DejaVu Sans","titleFontSize":12,"titleFontWeight":"normal","titleColor":"#000","values":[0,0.01,0.02,0.03,0.04,0.05,0.06],"labelExpr":"datum.value == 0 ? '0' : format(datum.value, '.2f')","labelFont":"DejaVu Sans","labelFontSize":13,"labelColor":"#000","labelPadding":4,"ticks":false,"grid":true,"gridColor":"#a0a0a0","domainColor":"#a0a0a0","labelOverlap":false,"labelFlush":false}}}},
{"mark":{"type":"area","color":{"gradient":"linear","x1":0,"y1":0,"x2":0,"y2":1,"stops":[{"offset":0,"color":"#F9ABA6"},{"offset":1,"color":"#D8544B"}]}},
"encoding":{"x":{"field":"h","type":"quantitative","axis":{"orient":"bottom","title":null,"values":[0,24,48,72,96,120,144],"labelExpr":"['Sun','Mon','Tue','Wed','Thu','Fri','Sat'][datum.value/24]","labelOffset":58,"labelPadding":-10,"labelAngle":0,"labelAlign":"center","labelBaseline":"middle","labelFont":"DejaVu Sans","labelFontSize":11,"labelColor":"#000","tickSize":65,"tickColor":"#999","domain":false,"grid":false,"labelOverlap":false,"labelFlush":false,"labelBound":false}},
"y":{"field":"a","type":"quantitative","axis":{"title":"(kWh)","titleAngle":0,"titleX":-44,"titleY":-17,"titleAlign":"left","titleBaseline":"middle","titleFont":"DejaVu Sans","titleFontSize":12,"titleFontWeight":"normal","titleColor":"#000","values":[0,0.01,0.02,0.03,0.04,0.05,0.06],"labelExpr":"datum.value == 0 ? '0' : format(datum.value, '.2f')","labelFont":"DejaVu Sans","labelFontSize":13,"labelColor":"#000","labelPadding":4,"ticks":false,"grid":true,"gridColor":"#a0a0a0","domainColor":"#a0a0a0","labelOverlap":false,"labelFlush":false}}}}
]}
]}
]
}
